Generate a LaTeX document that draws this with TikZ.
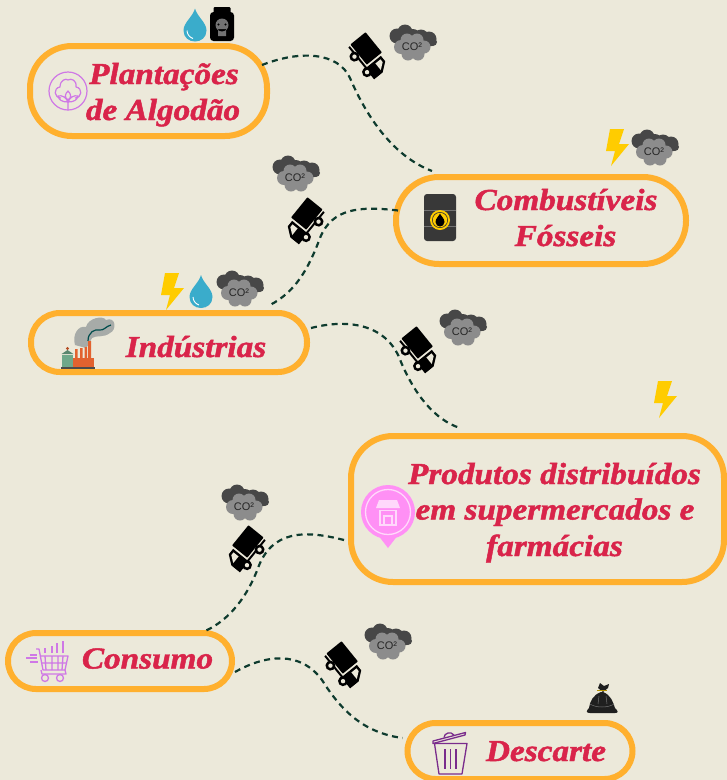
\documentclass[tikz,border=0pt]{standalone}
\usepackage{fontspec}
\setmainfont{Liberation Serif}[BoldItalicFeatures={FakeBold=1.5}]
\newfontfamily\cofont{Liberation Sans}
\usetikzlibrary{calc}
\definecolor{bgc}{HTML}{ECE9DA}
\definecolor{orangec}{HTML}{FFB02E}
\definecolor{redc}{HTML}{D9244A}
\definecolor{linkc}{HTML}{0E3B2E}
\definecolor{tealc}{HTML}{3AACCB}
\definecolor{boltc}{HTML}{FFCC00}
\definecolor{purplec}{HTML}{CF78E6}
\definecolor{pinkc}{HTML}{FF90F5}
\definecolor{pinklight}{HTML}{FFD8FB}
\definecolor{trashc}{HTML}{7A2C8C}
\definecolor{smokec}{HTML}{A7ABA8}
\definecolor{brickc}{HTML}{E2622F}
\definecolor{mintc}{HTML}{6FA88A}
\tikzset{
  stagebox/.style={draw=orangec,line width=6pt,fill=none,inner sep=0pt,outer sep=0pt,rectangle},
  stagetext/.style={text=redc,font=\fontsize{30.5}{34}\selectfont\bfseries\itshape,align=center,inner sep=0pt,anchor=base,transform shape,xscale=1.09},
  flowlink/.style={draw=linkc,line width=2.2pt,dash pattern=on 6pt off 4.5pt},
  truckpic/.pic={
    \fill[black,rounded corners=.6pt] (-18,-14) rectangle (8,5.5);
    \fill[black] (10,-11) -- (17,-11) -- (24,-2) -- (24,9) -- (-17,9) -- (-17,7) -- (10,7) -- cycle;
    \fill[bgc] (12.5,-8.5) -- (16,-8.5) -- (21,-2) -- (12.5,-2) -- cycle;
    \fill[black] (-6,10) circle (5) (14,10) circle (5);
    \fill[bgc] (-6,10) circle (2.2) (14,10) circle (2.2);
  },
  cloudpic/.pic={
    \fill[black!72] (-16,-8) circle (7.5) (-8,-12) circle (7.5) (0,-8) circle (7) (8,-7) circle (7.5) (16,-5) circle (7.5) (20,-2) circle (4) (-4,-6) rectangle (10,0);
    \fill[black!45] (-12,3) circle (7) (-6,-4) circle (6.5) (4,-4) circle (6.5) (11,3) circle (6.5) (-5,10) circle (6.5) (5,10) circle (6.5) (0,3) circle (9);
    \node[text=black!85,font=\cofont\fontsize{11}{11}\selectfont,inner sep=0pt] at (-1,3) {CO²};
  },
  droppic/.pic={
    \fill[tealc] (0,-17) .. controls (2,-9) and (11.5,-3) .. (11.5,5) .. controls (11.5,12) and (6,16) .. (0,16) .. controls (-6,16) and (-11.5,12) .. (-11.5,5) .. controls (-11.5,-3) and (-2,-9) .. (0,-17) -- cycle;
    \draw[white,line width=.9pt] (-8,5) .. controls (-8,9) and (-5,12) .. (-2,13);
  },
  boltpic/.pic={
    \fill[boltc] (-7,-18) -- (7,-18) -- (2,-3) -- (12,-3) -- (-6,19) -- (-2,4) -- (-11,4) -- cycle;
  }
}
\begin{document}
\begin{tikzpicture}[x=1pt,y=-1pt]
\useasboundingbox (0,0) rectangle (727,780);
\clip (0,0) rectangle (727,780);
\fill[bgc] (0,0) rectangle (727,780);

% stage boxes
\node[stagebox,rounded corners=42pt,minimum width=237pt,minimum height=90pt] (plant) at (148.5,91) {};
\node[stagebox,rounded corners=43pt,minimum width=290pt,minimum height=87pt] (fuel) at (541,220.5) {};
\node[stagebox,rounded corners=29pt,minimum width=276pt,minimum height=59pt] (industry) at (169,342.5) {};
\node[stagebox,rounded corners=42pt,minimum width=373pt,minimum height=146pt] (shop) at (537.5,509) {};
\node[stagebox,rounded corners=28pt,minimum width=224pt,minimum height=56pt] (use) at (120,661) {};
\node[stagebox,rounded corners=28pt,minimum width=225pt,minimum height=56pt] (waste) at (520,751) {};

% labels
\node[stagetext] (t1a) at (164,84) {Plantações};
\node[stagetext] (t1b) at (163,120) {de Algodão};
\node[stagetext] (t2a) at (566,210) {Combustíveis};
\node[stagetext] (t2b) at (565.5,246) {Fósseis};
\node[stagetext] (t3) at (196,357) {Indústrias};
\node[stagetext] (t4a) at (554.5,484) {Produtos distribuídos};
\node[stagetext] (t4b) at (555,519.5) {em supermercados e};
\node[stagetext] (t4c) at (554.5,556) {farmácias};
\node[stagetext] (t5) at (147.5,668.5) {Consumo};
\node[stagetext] (t6) at (546,761) {Descarte};

% connectors
\draw[flowlink] ([shift={(-5,19)}]plant.north east) .. controls (300,50) and (338,52) .. (350,78) .. controls (368,120) and (395,157) .. ([shift={(36,-6)}]fuel.north west);
\draw[flowlink] ([shift={(2,-10)}]fuel.west) .. controls (360,206) and (332,208) .. (320,238) .. controls (308,270) and (295,292) .. ([shift={(239,-8)}]industry.north west);
\draw[flowlink] ([shift={(4,15)}]industry.north east) .. controls (350,318) and (388,325) .. (401,362) .. controls (415,395) and (435,420) .. ([shift={(109,-8)}]shop.north west);
\draw[flowlink] ([shift={(-7,31)}]shop.west) .. controls (305,530) and (272,530) .. (258,568) .. controls (248,595) and (230,620) .. ([shift={(-27,-2)}]use.north east);
\draw[flowlink] ([shift={(3,11)}]use.east) .. controls (265,655) and (300,650) .. (322,680) .. controls (342,712) and (365,733) .. ([shift={(-5,-13)}]waste.west);

% trucks
\pic[rotate=-51] (tr1) at (366,55) {truckpic};
\pic[rotate=51,xscale=-1] (tr2) at (307,220) {truckpic};
\pic[rotate=-51] (tr3) at (417,349) {truckpic};
\pic[rotate=51,xscale=-1] (tr4) at (248,548) {truckpic};
\pic[rotate=-51] (tr5) at (342,664) {truckpic};

% clouds
\pic (cl1) at (413,44) {cloudpic};
\pic (cl2) at (296,175) {cloudpic};
\pic (cl3) at (240,290) {cloudpic};
\pic (cl4) at (463,329) {cloudpic};
\pic (cl5) at (245,504) {cloudpic};
\pic (cl6) at (388,643) {cloudpic};
\pic (cl7) at (655,149) {cloudpic};

% drops and bolts
\pic (dr1) at (195,25.5) {droppic};
\pic (dr2) at (201,292) {droppic};
\pic (bo1) at (172,291) {boltpic};
\pic (bo2) at (617,147) {boltpic};
\pic (bo3) at (665,399) {boltpic};

% poison bottle
\fill[black,rounded corners=1pt] (213.5,7) rectangle (230.5,13);
\fill[black,rounded corners=3.5pt] (210,12) rectangle (234,41);
\fill[black!55] (222,25) circle (6.5) (218,29) rectangle (226,36);
\fill[black] (218.5,24.5) circle (1.2) (225.5,24.5) circle (1.2);

% cotton icon
\draw[purplec,line width=1.2pt] (68,91) circle (19);
\draw[purplec,line width=1.2pt,line join=round] (61,98) .. controls (54,98) and (53,88) .. (60,87) .. controls (60,80) and (66,78) .. (68,80) .. controls (71,78) and (77,80) .. (76,87) .. controls (83,88) and (82,98) .. (75,98);
\draw[purplec,line width=1.2pt,line join=round] (68,110) -- (68,102) (68,102) .. controls (62,102) and (59,100) .. (58,96) .. controls (62,95) and (66,97) .. (68,102) .. controls (70,97) and (74,95) .. (78,96) .. controls (77,100) and (74,102) .. (68,102) (68,100) .. controls (64,97) and (65,94) .. (68,91) .. controls (71,94) and (72,97) .. (68,100);

% barrel
\fill[black!78,rounded corners=3pt] (424,194) rectangle (456,241);
\draw[black!55,line width=.6pt] (424,210) -- (456,210) (424,226) -- (456,226);
\fill[boltc] (440,220) circle (10);
\fill[black!78] (440,220) circle (8);
\fill[boltc] (440,220) circle (7.2);
\fill[black] (440,213.5) .. controls (441,216) and (444.5,218.5) .. (444.5,222) .. controls (444.5,225) and (442,226.5) .. (440,226.5) .. controls (438,226.5) and (435.5,225) .. (435.5,222) .. controls (435.5,218.5) and (439,216) .. (440,213.5) -- cycle;

% factory
\fill[smokec] (75,345) .. controls (72,335) and (78,325) .. (86,327) .. controls (88,318) and (103,315) .. (106,320) .. controls (116,316) and (117,330) .. (110,333) .. controls (104,338) and (96,335) .. (92,338) .. controls (90,342) and (88,346) .. (86,348) -- cycle;
\draw[black!40!teal,line width=1.2pt] (88,341) .. controls (88,332) and (95,329) .. (99,330) .. controls (104,331) and (106,326) .. (111,325);
\fill[brickc] (72,358) rectangle (94,367);
\fill[brickc] (75,349) rectangle (77.5,358) (80,348) rectangle (82.5,358) (84.5,347) rectangle (87,358) (88,341) rectangle (91,358);
\fill[mintc] (62,355) rectangle (73,367);
\fill[mintc!80!black] (61.5,354) -- (67.5,350) -- (73.5,354) -- cycle;
\fill[black!70] (61,367) rectangle (95,368.5);
\fill[brickc!80!black] (67.5,348.5) circle (1.6);

% shop pin
\fill[pinkc] (388,512) circle (27);
\fill[pinkc] (378,535) -- (398,535) -- (388,548) -- cycle;
\draw[pinklight,line width=1.3pt] (388,512) circle (22.5);
\fill[pinklight] (379,500) -- (397,500) -- (400,508) -- (376,508) -- cycle;
\fill[pinklight] (379,510) rectangle (397,525.5);
\fill[pinkc] (381,511) rectangle (395,524);
\fill[pinklight] (383,515) rectangle (393,525.5);
\fill[pinkc] (385,517) rectangle (391,524);

% cart
\begin{scope}[purplec,line width=1.3pt,line join=round]
  \draw (36,649) -- (39,649) -- (43,670) -- (65,670) -- (68,656) -- (39.5,656);
  \draw (45,656) -- (46,670) (52,656) -- (52,670) (58,656) -- (58,670) (63,656) -- (62,670) (41,663) -- (66,663);
  \draw (65,670) -- (66,674) -- (42,674) -- (41,670);
  \draw (45,678) circle (3.5) (60,678) circle (3.5);
  \draw (30,655) -- (37,655) (26,658) -- (37,658) (30,662) -- (38,662);
  \draw[line width=2.6pt] (45,653) -- (45,648) (52,653) -- (52,646) (57,653) -- (57,643) (63,653) -- (63,641);
\end{scope}

% trash can
\begin{scope}[trashc,line width=1.3pt,line join=round]
  \draw (433,741) -- (465.5,732.5) -- (465,735) -- (433,743.5) -- cycle;
  \draw (444,737.5) .. controls (444,733) and (451,731) .. (454,735);
  \draw (434.5,743.5) -- (467,743.5) -- (462,774) -- (439,774) -- cycle;
  \draw (445,749) -- (445,769) (450.5,749) -- (450.5,769) (456,749) -- (456,769);
\end{scope}

% garbage bag
\fill[black!88] (603,692) .. controls (611,695) and (613,702) .. (615,708) .. controls (618,711) and (619,713) .. (615,713) -- (590,713) .. controls (586,713) and (586,711) .. (589,708) .. controls (590,701) and (593,695) .. (601,692) -- cycle;
\fill[black!88] (600,683) -- (604,686) -- (609,684) -- (608,688) -- (603,692) -- (598,688) -- cycle;
\draw[boltc!70!black,line width=.5pt] (597,690) -- (607,690);
\draw[black!55,line width=.5pt] (590,704) .. controls (596,708) and (608,708) .. (614,704) (599,696) -- (598,704) (606,696) -- (607,704);
\end{tikzpicture}
\end{document}
